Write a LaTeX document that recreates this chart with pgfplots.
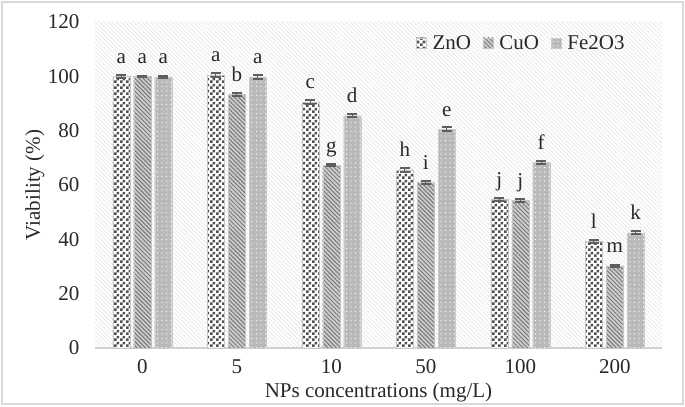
\documentclass[border=0pt]{standalone}
\usepackage{fontspec}
\setmainfont{Liberation Serif}
\usepackage{pgfplots}
\pgfplotsset{compat=1.18}
\usetikzlibrary{patterns,patterns.meta}

\definecolor{checkdark}{RGB}{80,80,80}
\definecolor{stripebg}{RGB}{205,205,205}
\definecolor{stripefg}{RGB}{120,120,120}
\definecolor{dotbg}{RGB}{185,185,185}
\definecolor{errcol}{RGB}{95,95,95}
\definecolor{txt}{RGB}{40,40,40}

\tikzdeclarepattern{
  name=finecheck,
  type=uncolored,
  bottom left={(0,0)},
  top right={(6bp,6bp)},
  tile size={(6bp,6bp)},
  code={
    \fill (0,0) rectangle (3bp,3bp);
    \fill (3bp,3bp) rectangle (6bp,6bp);
  }
}

\begin{document}
\begin{tikzpicture}
\begin{axis}[
  width=567bp, height=326bp, scale only axis,
  font=\fontsize{21bp}{24bp}\selectfont,
  text=txt,
  ybar,
  xmin=-0.5, xmax=5.5,
  ymin=0, ymax=120, ytick distance=20,
  xtick={0,...,5},
  xticklabels={0,5,10,50,100,200},
  /pgf/number format/assume math mode=true,
  major tick length=0pt,
  axis lines*=left,
  y axis line style={draw=none},
  x axis line style={draw=gray!35, line width=1.5bp},
  yticklabel style={xshift=-12bp},
  xticklabel style={yshift=-8bp},
  ylabel={Viability (\%)},
  ylabel style={at={(axis description cs:-0.106,0.5)}, anchor=center},
  xlabel={NPs concentrations (mg/L)},
  xlabel style={at={(axis description cs:0.5,0)}, anchor=center, yshift=-44bp},
  axis background/.style={fill=white,
    postaction={pattern={Lines[angle=-45,distance=3bp,line width=0.6bp]}, pattern color=gray!20}},
  bar width=0.18,
  point meta=explicit symbolic,
  nodes near coords,
  nodes near coords style={anchor=base, yshift=13bp, text=txt},
  error bars/y dir=both, error bars/y explicit,
  error bars/error mark=|,
  error bars/error mark options={mark size=5bp, line width=2bp, draw=errcol},
  error bars/error bar style={draw=errcol, line width=1bp},
  legend style={at={(axis description cs:0.938,0.936)}, anchor=east,
    draw=none, fill=none, font=\fontsize{21bp}{24bp}\selectfont,
    inner sep=0pt, column sep=0pt,
    /tikz/every odd column/.append style={column sep=4bp},
    /tikz/every even column/.append style={column sep=10bp}},
  legend columns=-1,
  legend image code/.code={\draw[#1] (0bp,-5bp) rectangle (10bp,5bp);},
]
\addplot[bar shift=-0.222, draw=gray!45, fill=white,
  postaction={pattern=finecheck, pattern color=checkdark}]
  coordinates {
  (0,100.0) +- (0,0.5) [a]
  (1,100.5) +- (0,0.8) [a]
  (2,90.6) +- (0,0.7) [c]
  (3,65.6) +- (0,0.7) [h]
  (4,54.6) +- (0,0.6) [j]
  (5,39.2) +- (0,0.6) [l]
};
\addplot[bar shift=0, draw=gray!45, fill=stripebg,
  postaction={pattern={Lines[angle=-45,distance=3bp,line width=1bp]}, pattern color=stripefg}]
  coordinates {
  (0,100.0) +- (0,0.3) [a]
  (1,93.3) +- (0,0.4) [b]
  (2,67.3) +- (0,0.4) [g]
  (3,60.9) +- (0,0.4) [i]
  (4,54.3) +- (0,0.4) [j]
  (5,30.2) +- (0,0.4) [m]
};
\addplot[bar shift=0.222, draw=gray!40, fill=dotbg,
  postaction={pattern={Dots[distance=4.5bp,radius=0.55bp]}, pattern color=white}]
  coordinates {
  (0,99.8) +- (0,0.5) [a]
  (1,99.8) +- (0,0.6) [a]
  (2,85.5) +- (0,0.6) [d]
  (3,80.6) +- (0,0.7) [e]
  (4,68.3) +- (0,0.7) [f]
  (5,42.4) +- (0,0.6) [k]
};
\legend{ZnO, CuO, Fe2O3}
\end{axis}
\path[use as bounding box] ([shift={(-95bp,-58bp)}]current axis.south west)
  rectangle ([shift={(23bp,22bp)}]current axis.north east);
\draw[gray!30, line width=1.5bp] ([shift={(-93bp,-56bp)}]current axis.south west)
  rectangle ([shift={(21bp,20bp)}]current axis.north east);
\end{tikzpicture}
\end{document}
